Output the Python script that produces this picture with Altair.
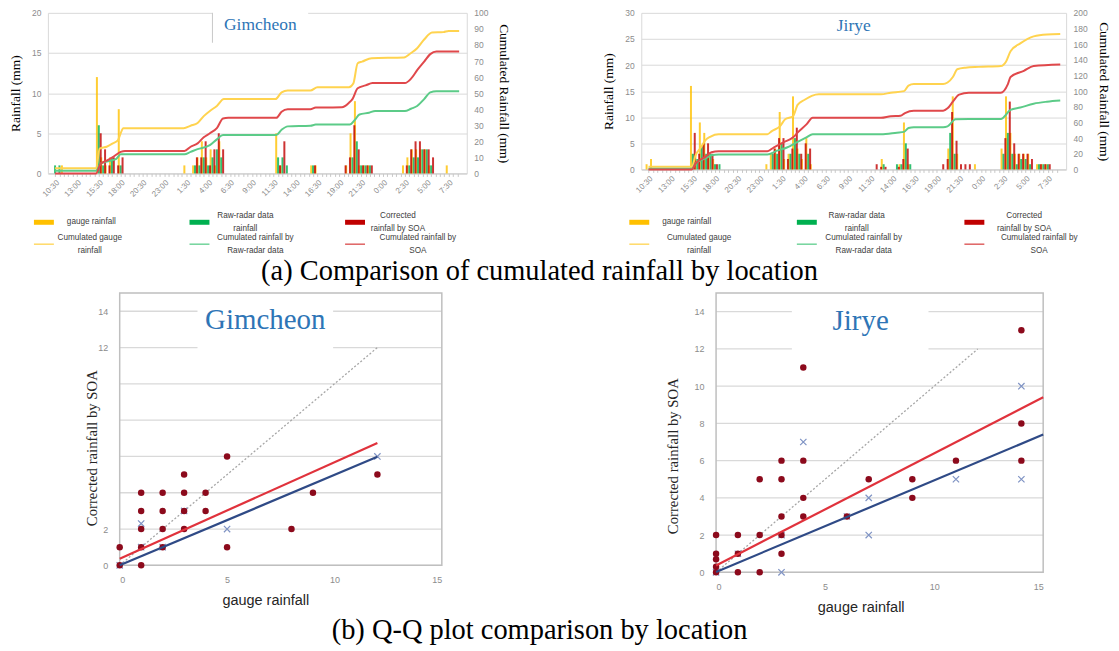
import altair as alt
import pandas as pd

# ---------------- data ----------------
TIME_LABELS = ['10:30', '13:00', '15:30', '18:00', '20:30', '23:00', '1:30', '4:00', '6:30',
               '9:00', '11:30', '14:00', '16:30', '19:00', '21:30', '0:00', '2:30', '5:00', '7:30']

# Gimcheon half-hourly rainfall (hours after 10:30)
GIM_T = [0, 0.5, 1, 5, 5.5, 6, 6.5, 7, 7.5, 15, 16, 16.5, 17, 17.5, 18, 18.5, 19,
         25.5, 26, 26.5, 29.5, 30, 33, 33.5, 34, 34.5, 35, 35.5, 36,
         40, 40.5, 41, 41.5, 42, 42.5, 43, 45]
GIM_GAUGE = [0, 0, 1, 12, 2, 1, 2, 0, 8, 1, 1, 2, 4, 2, 3, 1, 4,
             5, 1, 0, 1, 1, 0, 1, 5, 9, 1, 1, 1,
             1, 2, 3, 3, 3, 3, 1, 1]
GIM_RADAR = [1, 1, 0, 6, 1, 0, 2, 0, 1, 0, 1, 1, 2, 1, 2, 3, 2,
             2, 2, 1, 1, 0, 0, 0, 2, 4, 1, 1, 1,
             0, 1, 2, 2, 3, 3, 1, 0]
GIM_SOA = [0, 0, 0, 5, 3, 1, 2, 1, 2, 0, 2, 2, 4, 1, 3, 5, 3,
           1, 4, 0, 1, 0, 1, 2, 6, 3, 1, 1, 1,
           1, 3, 4, 4, 3, 3, 2, 0]

GIM_CG_T = [0, 4.7, 5.1, 5.9, 6.6, 7.2, 7.5, 7.8, 14.7, 15.5, 16.3, 17, 17.7, 18.5, 19.3, 25.2, 25.9,
            26.6, 29.2, 30, 33.6, 34.1, 34.6, 35.1, 36.2, 39.9, 40.7, 41.4, 42.2, 43.1, 44.4, 45, 46.2]
GIM_CG = [3.2, 3.2, 15.5, 16.6, 18.7, 20.8, 25, 28.2, 28.2, 29.7, 31.4, 35.7, 38.9, 42, 46.3, 46.3, 50.5,
          51.6, 51.6, 53.7, 53.7, 56, 68.6, 69.6, 71.8, 72.2, 75, 78, 83.4, 87.7, 88, 88.7, 88.7]
GIM_CS_T = [0, 4.7, 5.2, 5.9, 6.6, 7.5, 8, 14.8, 15.5, 16.3, 17, 17.7, 18.5, 19.2, 19.8, 25.3, 25.9,
            26.6, 29.2, 29.8, 32.8, 33.6, 34.0, 34.6, 35.5, 36.3, 40, 40.7, 41.4, 42.2, 42.9, 43.6, 46.2]
GIM_CS = [0, 0, 6, 8, 10.2, 13.4, 14, 14, 16.6, 18.7, 22.5, 25, 28.2, 34.2, 34.6, 34.6, 38.4,
          39.9, 39.9, 41, 41.2, 44, 46.3, 53, 54.8, 56.3, 56.3, 59, 64.3, 69.6, 74.3, 76, 76]
GIM_CR_T = [0, 4.7, 5.2, 5.9, 7, 7.5, 8, 14.8, 15.5, 16.3, 17.7, 18.5, 19.2, 25.3, 25.9, 26.6,
            29.2, 29.8, 33.7, 34.3, 34.8, 35.9, 36.6, 40, 40.7, 41.4, 42.2, 42.9, 43.6, 46.2]
GIM_CR = [1.7, 1.7, 6, 7.4, 9.1, 11.9, 11.9, 11.9, 13.4, 15.1, 17.6, 21.2, 24, 24, 27.2, 29.3,
          29.7, 30.4, 30.4, 33.5, 36.7, 37.8, 38.9, 38.9, 40.3, 42, 46.3, 50.5, 51.2, 51.2]

# Jirye half-hourly rainfall
JIR_T = [0, 0.5, 5, 5.5, 6, 6.5, 7, 7.5, 8, 13.5, 14, 14.5, 15, 15.5, 16, 16.5, 17, 17.5, 18, 18.5,
         25.5, 26, 26.5, 28, 28.5, 29, 29.5, 33, 33.5, 34, 34.5, 35, 35.5, 36, 37,
         40, 40.5, 41, 41.5, 42, 42.5, 43, 44, 44.5, 45]
JIR_GAUGE = [1, 2, 16, 3, 9, 7, 3, 2, 0, 1, 3, 4, 11, 2, 3, 14, 4, 2, 6, 1,
             0, 0, 2, 0, 1, 9, 1, 0, 0, 4, 14, 3, 0, 0, 1,
             4, 14, 7, 3, 3, 3, 3, 1, 1, 1]
JIR_RADAR = [0, 0, 3, 2, 4.5, 3, 3, 1, 1, 0, 3, 3, 5, 0, 3, 6, 3, 0, 3, 0,
             0, 0, 1, 1, 1, 5, 1, 0, 0, 7, 3, 0, 0, 0, 0,
             3, 7, 3, 1, 2, 2, 1, 1, 1, 1]
JIR_SOA = [0, 0, 7, 3, 5, 5, 3, 1, 0, 0, 4, 6, 6, 2, 4, 8, 3, 5, 4, 0,
           1, 0.5, 0.5, 0.5, 2, 4, 0, 1, 2, 11, 5.5, 1, 1, 1, 0,
           6, 13, 5, 3, 3, 3, 2, 1, 1, 1]

JIR_CG_T = [0, 4.9, 5.3, 5.9, 6.4, 7.0, 7.9, 13.4, 13.9, 14.8, 15.4, 16.3, 16.8, 17.6, 18.4, 19.2,
            26.2, 27.3, 28.8, 29.3, 29.9, 33.2, 33.7, 34.3, 34.8, 35.7, 37.2, 39.7, 40.3, 40.8, 41.9,
            43.4, 44.9, 46.4]
JIR_CG = [3.3, 3.3, 18, 28, 37, 42, 45, 45, 49, 55, 64, 68, 82.5, 89, 94, 96,
          96, 98, 100, 107, 109, 109, 111, 118, 128, 130, 131, 132, 138, 151, 161,
          170, 172.5, 173]
JIR_CS_T = [0, 4.9, 5.3, 6.4, 7.1, 7.9, 13.4, 14.1, 15.2, 16.3, 16.8, 17.8, 18.5, 19.6, 26.2, 27.3,
            28.4, 28.9, 29.9, 33.2, 33.7, 34.3, 35, 36.1, 39.7, 40.5, 40.8, 42.3, 43.4, 46.4]
JIR_CS = [0, 0, 7.5, 16, 22, 23.3, 23.3, 28, 34.6, 41, 47, 57.5, 66, 66, 66, 68,
          68.6, 72, 75, 75, 78, 86.5, 95.6, 98, 98, 109, 118, 126, 132, 134]
JIR_CR_T = [0, 4.9, 5.3, 6.4, 7.1, 7.9, 13.4, 14.5, 15.6, 16.7, 17.8, 18.5, 19.6, 26.2, 28, 28.8,
            29.3, 29.9, 33.2, 33.7, 34.6, 36.1, 39.7, 40.8, 41.9, 43.4, 44.9, 46.4]
JIR_CR = [1, 1, 7.5, 14, 18, 19, 19, 24, 28, 34.6, 41, 45, 45, 45, 47, 48,
          53, 54, 54, 55, 64, 64.5, 64.5, 76, 79, 84, 86.5, 88]

# Q-Q plots
GIM_SOA_X = [0, 0, 1, 1, 1, 1, 1, 2, 2, 2, 2, 3, 3, 3, 3, 4, 4, 5, 5, 8, 9, 12]
GIM_SOA_Y = [1, 0, 4, 3, 2, 1, 0, 4, 3, 2, 1, 5, 4, 3, 2, 4, 3, 6, 1, 2, 4, 5]
GIM_RAD_X = [0, 1, 1, 2, 3, 5, 12]
GIM_RAD_Y = [0, 1, 2.3, 1, 3, 2, 6]
GIM_FIT_X = [0, 12]
GIM_FIT_SOA = [0.37, 6.74]
GIM_FIT_RAD = [0.0, 5.98]
GIM_ONE = [0, 12]

JIR_SOA_X = [0, 0, 0, 0, 0, 1, 1, 1, 2, 2, 2, 3, 3, 3, 3, 3, 4, 4, 4, 4, 6, 7, 9, 9, 11, 14, 14, 14]
JIR_SOA_Y = [2, 1, 0.7, 0.3, 0, 2, 1, 0, 5, 2, 0, 6, 5, 3, 2, 1, 11, 6, 4, 3, 3, 5, 5, 4, 6, 13, 8, 6]
JIR_RAD_X = [0, 1, 3, 3, 4, 6, 7, 7, 11, 14, 14]
JIR_RAD_Y = [0, 1, 0, 2, 7, 3, 4, 2, 5, 10, 5]
JIR_FIT_X = [0, 15]
JIR_FIT_SOA = [0.37, 9.4]
JIR_FIT_RAD = [0.02, 7.4]
JIR_ONE = [0, 12]

QQ_GRID = [0, 2, 4, 6, 8, 10, 12, 14]

LEG_LABELS = ['gauge rainfall', 'Raw-radar data\nrainfall', 'Corrected\nrainfall by SOA',
              'Cumulated gauge\nrainfall', 'Cumulated rainfall  by\nRaw-radar data', 'Cumulated rainfall  by\nSOA']
LEG_COL = [0, 1, 2, 0, 1, 2]
LEG_ROW = [0, 0, 0, 1, 1, 1]

CAPTION_A = '(a)  Comparison of cumulated rainfall by location'
CAPTION_B = '(b) Q-Q plot comparison by location'

# ---------------- style ----------------
SERIF = 'Liberation Serif'
SANS = 'Liberation Sans'
TICK_C = '#8C8C8C'
GRID_C = '#D9D9D9'
TITLE_BLUE = '#2E75B6'
BAR_COLORS = {'g': '#FFC000', 'r': '#00B050', 's': '#C00000'}
LINE_COLORS = {'g': '#FFD34F', 'r': '#5CCB88', 's': '#E0484B'}
LEG_SWATCH = ['#FFC000', '#00B050', '#C00000', '#FFDB6E', '#79D6A0', '#E06A6A']
LEG_WIDTH = [5, 5, 5, 1.6, 1.6, 1.6]

label_expr = ("(datum.value % 2.5 == 0) ? [" + ",".join("'%s'" % l for l in TIME_LABELS) +
              "][round(datum.value / 2.5)] : ''")


def top_panel(name, T, G, R, S, cums, ymax, ystep, y2max, y2step, width, height, box, edge):
    xscale = alt.Scale(domain=[-0.25, 46.5], nice=False, zero=False)
    xaxis = alt.Axis(values=[i * 0.5 for i in range(0, 93)], labelExpr=label_expr, labelAngle=-45,
                     labelAlign='right', labelBaseline='top', labelOverlap=False, labelFont=SANS,
                     labelFontSize=8, labelColor=TICK_C, labelPadding=2, tickSize=3, tickColor='#C8C8C8',
                     domainColor='#C8C8C8', grid=False, title=None)
    yaxis = alt.Axis(values=list(range(0, ymax + 1, ystep)), grid=True, gridColor=GRID_C, ticks=False,
                     domain=True, domainColor=GRID_C, labelFont=SANS, labelFontSize=8.5, labelColor=TICK_C,
                     labelPadding=7, title='Rainfall (mm)', titleFont=SERIF, titleFontSize=13.5,
                     titleFontWeight='normal', titleColor='black', titlePadding=9)
    y2axis = alt.Axis(orient='right', values=list(range(0, y2max + 1, y2step)), grid=False, ticks=False,
                      domain=True, domainColor=GRID_C, labelFont=SANS, labelFontSize=8.5, labelColor=TICK_C,
                      labelPadding=7, title='Cumulated Rainfall (mm)', titleFont=SERIF, titleFontSize=13.5,
                      titleFontWeight='normal', titleColor='black', titlePadding=9)
    bar_rows = []
    for key, vals in (('g', G), ('r', R), ('s', S)):
        for t, v in zip(T, vals):
            if v > 0:
                bar_rows.append({'t': t, 'v': v, 'k': key})
    bdf = pd.DataFrame(bar_rows)
    bars = []
    for key, off in (('g', -1.9), ('r', 0.0), ('s', 1.9)):
        bars.append(alt.Chart(bdf).transform_filter(alt.datum.k == key)
                    .mark_bar(width=2.0, xOffset=off, color=BAR_COLORS[key], opacity=0.8)
                    .encode(x=alt.X('t:Q', scale=xscale, axis=xaxis),
                            y=alt.Y('v:Q', scale=alt.Scale(domain=[0, ymax], nice=False), axis=yaxis)))
    lines = []
    for key, (ct, cv) in zip(('g', 'r', 's'), cums):
        ldf = pd.DataFrame({'t': ct, 'c': cv})
        lines.append(alt.Chart(ldf).mark_line(color=LINE_COLORS[key], strokeWidth=2, interpolate='monotone')
                     .encode(x=alt.X('t:Q', scale=xscale, axis=xaxis),
                             y=alt.Y('c:Q', scale=alt.Scale(domain=[0, y2max], nice=False), axis=y2axis)))
    one = pd.DataFrame({'n': [name]})
    bx0, bx1, by0, by1, tx, ty = box
    deco_layers = [
        alt.Chart(one).mark_rect(color='white').encode(x=alt.value(bx0), x2=alt.value(bx1),
                                                       y=alt.value(by0), y2=alt.value(by1)),
        alt.Chart(one).mark_text(font=SERIF, fontSize=17.5, color=TITLE_BLUE)
        .encode(text='n:N', x=alt.value(tx), y=alt.value(ty)),
    ]
    if edge:
        deco_layers.append(alt.Chart(one).mark_rule(color='#C8C8C8')
                           .encode(x=alt.value(bx0), y=alt.value(max(by0, 0)), y2=alt.value(by1)))
    deco = alt.layer(*deco_layers)
    return alt.layer(alt.layer(*bars), alt.layer(*lines), deco).resolve_scale(y='independent') \
        .properties(width=width, height=height)


def legend_panel(width, step, shift, dxs, extra=None):
    ldf = pd.DataFrame({'col': LEG_COL, 'row': LEG_ROW, 'label': LEG_LABELS, 'i': list(range(6))})
    xs = alt.Scale(domain=[0, 2], range=[0, 2 * step], nice=False, zero=False)
    ys = alt.Scale(domain=[0, 1], nice=False, zero=False, reverse=True)
    layers = []
    for i in range(6):
        base = alt.Chart(ldf).transform_filter(alt.datum.i == i)
        multi = '\n' in LEG_LABELS[i]
        layers.append(base.mark_rule(color=LEG_SWATCH[i], strokeWidth=LEG_WIDTH[i], strokeCap='butt',
                                     xOffset=shift - 10, x2Offset=shift + 10)
                      .encode(x=alt.X('col:Q', scale=xs, axis=None), x2='col:Q',
                              y=alt.Y('row:Q', scale=ys, axis=None)))
        layers.append(base.mark_text(font=SANS, fontSize=8.2, color='#404040', lineBreak='\n', lineHeight=12.5,
                                     align='left' if i == 0 else 'center', baseline='middle',
                                     dx=shift + dxs[i], dy=-6 if multi else 0)
                      .encode(x=alt.X('col:Q', scale=xs, axis=None), y=alt.Y('row:Q', scale=ys, axis=None),
                              text='label:N'))
    if extra is not None:
        layers.append(extra)
    return alt.layer(*layers).properties(width=width, height=22)


def caption_layer(text, x, y):
    return alt.Chart(pd.DataFrame({'c': [text]})).mark_text(font=SERIF, fontSize=28.5, color='black',
                                                            baseline='middle') \
        .encode(text='c:N', x=alt.value(x), y=alt.value(y))


def qq_panel(name, sx, sy, rx, ry, fx, fs, fr, one, lead, plot_w, height, shown, ytx, yty, xtx, box,
             title_xy, extra=None):
    xs = alt.Scale(domain=[0, 15], range=[lead, lead + plot_w], nice=False, zero=False)
    ys = alt.Scale(domain=[0, 15], nice=False, zero=False)
    xaxis = alt.Axis(values=[0, 5, 10, 15], grid=False, ticks=False, domain=False, labelFont=SANS,
                     labelFontSize=9, labelColor=TICK_C, labelPadding=10, title='gauge rainfall',
                     titleFont=SANS, titleFontSize=14.5, titleFontWeight='normal', titleColor='#262626',
                     titleX=lead + xtx, titleY=35, titleBaseline='middle')
    yexpr = "indexof([%s], datum.value) >= 0 ? datum.label : ''" % ",".join(str(v) for v in shown)
    yaxis = alt.Axis(values=QQ_GRID, grid=False, ticks=False, domain=False, offset=-lead,
                     labelFont=SANS, labelFontSize=9, labelColor=TICK_C, labelExpr=yexpr,
                     labelPadding=12, title='Corrected rainfall by SOA', titleFont=SERIF, titleFontSize=14.8,
                     titleFontWeight='normal', titleColor='#262626', titleX=ytx, titleY=yty,
                     titleBaseline='middle', titleAngle=-90)
    X = lambda f: alt.X(f + ':Q', scale=xs, axis=xaxis)
    Y = lambda f: alt.Y(f + ':Q', scale=ys, axis=yaxis)
    soa = pd.DataFrame({'x': sx, 'y': sy})
    rad = pd.DataFrame({'x': rx, 'y': ry})
    fit = pd.DataFrame({'x': fx, 'ys': fs, 'yr': fr})
    diag = pd.DataFrame({'x': one, 'y': one})
    grid = pd.DataFrame({'g': QQ_GRID})
    lab = pd.DataFrame({'n': [name]})
    bx0, bx1, by0, by1 = box
    layers = [
        alt.Chart(grid).mark_rule(color=GRID_C, strokeWidth=1.3)
        .encode(y=alt.Y('g:Q', scale=ys, axis=yaxis),
                x=alt.X(datum=0, type='quantitative', scale=xs, axis=xaxis), x2=alt.X2(datum=15)),
        alt.Chart(lab).mark_rect(color='white').encode(x=alt.value(lead + bx0), x2=alt.value(lead + bx1),
                                                       y=alt.value(by0), y2=alt.value(by1)),
        alt.Chart(lab).mark_rect(fillOpacity=0, stroke='#BFBFBF', strokeWidth=1.5)
        .encode(x=alt.X(datum=0, type='quantitative', scale=xs, axis=xaxis), x2=alt.X2(datum=15),
                y=alt.Y(datum=0, type='quantitative', scale=ys, axis=yaxis), y2=alt.Y2(datum=15)),
        alt.Chart(diag).mark_line(color='#A6A6A6', strokeWidth=1.3, strokeDash=[2, 2]).encode(x=X('x'), y=Y('y')),
        alt.Chart(rad).mark_point(shape='M-1,-1L1,1M-1,1L1,-1', size=40, filled=False, strokeWidth=1.2,
                                  color='#7F93C4', opacity=1).encode(x=X('x'), y=Y('y')),
        alt.Chart(soa).mark_circle(size=42, color='#8C0A1C', opacity=1).encode(x=X('x'), y=Y('y')),
        alt.Chart(fit).mark_line(color='#E0323C', strokeWidth=2.2).encode(x=X('x'), y=Y('ys')),
        alt.Chart(fit).mark_line(color='#2F4A86', strokeWidth=2.2).encode(x=X('x'), y=Y('yr')),
        alt.Chart(lab).mark_text(font=SERIF, fontSize=29, color=TITLE_BLUE)
        .encode(text='n:N', x=alt.value(lead + title_xy[0]), y=alt.value(title_xy[1])),
    ]
    if extra is not None:
        layers.append(extra)
    return alt.layer(*layers).properties(width=lead + plot_w, height=height)


gim_top = top_panel('Gimcheon', GIM_T, GIM_GAUGE, GIM_RADAR, GIM_SOA,
                    [(GIM_CG_T, GIM_CG), (GIM_CR_T, GIM_CR), (GIM_CS_T, GIM_CS)],
                    20, 5, 100, 10, 420, 161, (165, 261, -2, 30, 213, 12), True)
jir_top = top_panel('Jirye', JIR_T, JIR_GAUGE, JIR_RADAR, JIR_SOA,
                    [(JIR_CG_T, JIR_CG), (JIR_CR_T, JIR_CR), (JIR_CS_T, JIR_CS)],
                    30, 5, 200, 20, 426, 157, (165, 261, 2, 24, 213, 13), False)

gim_leg = legend_panel(420, 156, -4, [23, 46, 43, 46, 56, 63], extra=caption_layer(CAPTION_A, 493, 49))
jir_leg = legend_panel(426, 168, -2, [23, 50, 50, 60, 57, 65])

gim_qq = qq_panel('Gimcheon', GIM_SOA_X, GIM_SOA_Y, GIM_RAD_X, GIM_RAD_Y, GIM_FIT_X, GIM_FIT_SOA,
                  GIM_FIT_RAD, GIM_ONE, 72, 323, 273, [0, 2, 12, 14], -27, 155, 146, (78, 214, 2, 68),
                  (146, 27), extra=caption_layer(CAPTION_B, 493, 338))
jir_qq = qq_panel('Jirye', JIR_SOA_X, JIR_SOA_Y, JIR_RAD_X, JIR_RAD_Y, JIR_FIT_X, JIR_FIT_SOA,
                  JIR_FIT_RAD, JIR_ONE, 75, 328, 280, QQ_GRID, -43, 163, 145, (76, 213, 2, 68), (145, 28))

chart = alt.concat(gim_top, jir_top, gim_leg, jir_leg, gim_qq, jir_qq, columns=2, bounds='flush',
                   spacing={'row': 49, 'column': 175}).properties(
    padding={'left': 0, 'top': 0, 'right': 0, 'bottom': 0}
).configure_view(stroke=None)

chart.save('out.html', embed_options={'renderer': 'svg', 'actions': False})
